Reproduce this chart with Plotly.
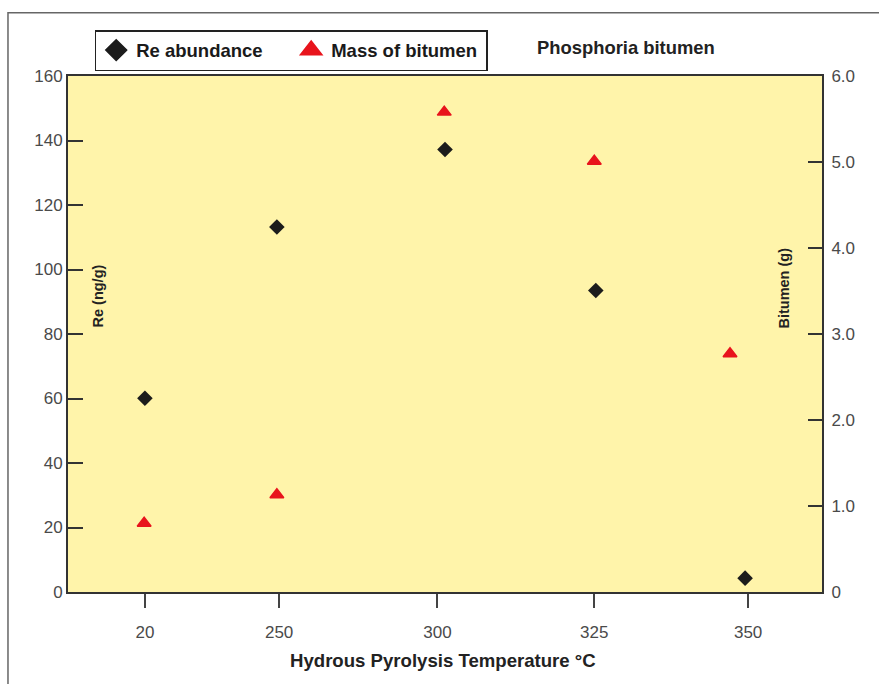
import plotly.graph_objects as go

# Data
temp_labels = ["20", "250", "300", "325", "350"]
tick_pos = [0.01, 0.9, 1.95, 2.99, 4.01]
re_x = [0.01, 0.885, 2.0, 3.0, 3.99]
re_abundance = [60.1, 113.2, 137.2, 93.5, 4.3]
bit_x = [0.005, 0.885, 1.995, 2.99, 3.89]
bitumen_mass = [0.80, 1.13, 5.58, 5.01, 2.77]

left_ticks = [0, 20, 40, 60, 80, 100, 120, 140, 160]
right_ticks = [0, 1, 2, 3, 4, 5, 6]
right_tick_text = ["0", "1.0", "2.0", "3.0", "4.0", "5.0", "6.0"]

FONT = "Liberation Sans, Arial, sans-serif"

fig = go.Figure()
fig.add_trace(go.Scatter(x=re_x, y=re_abundance, mode="markers", showlegend=False,
                         marker=dict(symbol="diamond", size=12, color="#1c1c1c"),
                         yaxis="y"))
fig.add_trace(go.Scatter(x=bit_x, y=bitumen_mass, mode="markers", showlegend=False,
                         marker=dict(symbol="triangle-up", size=12, color="#e8141c",
                                     line=dict(color="#e8141c", width=1.5)),
                         yaxis="y2"))
# legend-only entries
fig.add_trace(go.Scatter(x=[None], y=[None], mode="markers", name="Re abundance",
                         marker=dict(symbol="diamond", size=16, color="#1c1c1c",
                                     line=dict(color="#1c1c1c", width=1.5))))
fig.add_trace(go.Scatter(x=[None], y=[None], mode="markers", name="Mass of bitumen",
                         marker=dict(symbol="triangle-up", size=16, color="#e8141c",
                                     line=dict(color="#e8141c", width=3))))

fig.update_layout(
    width=879, height=684,
    margin=dict(l=68, r=57, t=76, b=92),
    paper_bgcolor="white",
    plot_bgcolor="#FFF4AA",
    font=dict(family=FONT, color="#4a4a4a", size=17),
    xaxis=dict(range=[-0.5, 4.5], tickvals=tick_pos, ticktext=temp_labels,
               ticks="outside", ticklen=14, tickwidth=2, tickcolor="#444444",
               ticklabelstandoff=10,
               showline=True, linecolor="#333333", linewidth=2, mirror=True,
               showgrid=False, zeroline=False, fixedrange=True),
    yaxis=dict(range=[0, 160], tickvals=left_ticks, ticks="inside", ticklen=15,
               tickwidth=2, tickcolor="#333333", showline=True, linecolor="#333333",
               linewidth=2, mirror=True, showgrid=False, zeroline=False),
    yaxis2=dict(range=[0, 6], tickvals=right_ticks, ticktext=right_tick_text,
                overlaying="y", side="right", ticks="inside", ticklen=14,
                tickwidth=2, tickcolor="#333333", showline=True, linecolor="#333333",
                linewidth=2, showgrid=False, zeroline=False, ticklabelstandoff=4),
    legend=dict(orientation="h", x=0.0354, y=1.089, xanchor="left", yanchor="top",
                bgcolor="white", bordercolor="#222222", borderwidth=1.5,
                font=dict(family=FONT, size=18.5, color="#1a1a1a", weight="bold"),
                itemsizing="trace", entrywidth=150, entrywidthmode="pixels"),
    showlegend=True,
)

fig.add_annotation(text="Re (ng/g)", x=0.040, y=0.573, xref="paper", yref="paper",
                   xanchor="center", yanchor="middle",
                   textangle=-90, showarrow=False,
                   font=dict(family=FONT, size=14.5, color="#222222", weight="bold"))
fig.add_annotation(text="Bitumen (g)", x=0.9496, y=0.590, xref="paper", yref="paper",
                   xanchor="center", yanchor="middle",
                   textangle=-90, showarrow=False,
                   font=dict(family=FONT, size=14.5, color="#222222", weight="bold"))
fig.add_annotation(text="Hydrous Pyrolysis Temperature °C", x=0.498, y=-0.132,
                   xref="paper", yref="paper", showarrow=False,
                   xanchor="center", yanchor="middle",
                   font=dict(family=FONT, size=18.6, color="#222222", weight="bold"))
fig.add_annotation(text="Phosphoria bitumen", x=0.740, y=1.055,
                   xref="paper", yref="paper", showarrow=False,
                   xanchor="center", yanchor="middle",
                   font=dict(family=FONT, size=18.4, color="#222222", weight="bold"))

# outer frame
fig.add_shape(type="rect", xref="paper", yref="paper", x0=-0.0796, x1=1.2,
              y0=-0.3, y1=1.1225, line=dict(color="#666666", width=1.5), layer="below")

fig.write_html("out.html")
